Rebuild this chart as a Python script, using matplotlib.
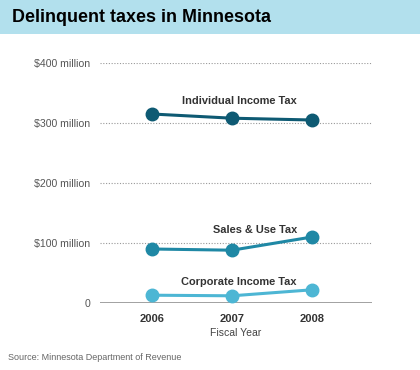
import matplotlib
matplotlib.use("Agg")
import matplotlib.pyplot as plt

plt.rcParams['font.family'] = ['Liberation Sans', 'DejaVu Sans']

years = [2006, 2007, 2008]
individual = [315, 308, 305]
sales = [90, 88, 110]
corporate = [13, 12, 22]
series_names = ["Individual Income Tax", "Sales & Use Tax", "Corporate Income Tax"]
series_colors = ["#0e5a73", "#1f88a5", "#4db6d4"]
yticks = [0, 100, 200, 300, 400]
ytick_labels = ["0", "$100 million", "$200 million", "$300 million", "$400 million"]

W, H = 420, 370
fig = plt.figure(figsize=(W / 100, H / 100), dpi=100)
fig.patch.set_facecolor("white")

# title banner
fig.patches.append(plt.Rectangle((0, 1 - 34 / H), 1, 34 / H, transform=fig.transFigure,
                                 facecolor="#b2e0ed", edgecolor="none", zorder=0))
fig.text(12 / W, 1 - 18 / H, "Delinquent taxes in Minnesota", fontsize=12.9,
         fontweight="bold", color="black", va="center", ha="left")

ax = fig.add_axes([100 / W, (H - 303) / H, 272 / W, 240 / H])
ax.set_xlim(2005.35, 2008.75)
ax.set_ylim(0, 400)
for s in ax.spines.values():
    s.set_visible(False)
ax.set_facecolor("none")

for y in yticks[1:]:
    ax.axhline(y, color="#999999", lw=0.8, ls=(0, (1, 1.5)), zorder=1)
ax.axhline(0, color="#888888", lw=1.1, zorder=1)

ax.set_yticks(yticks)
ax.set_yticklabels(ytick_labels)
ax.set_xticks(years)
ax.set_xticklabels([str(y) for y in years])
ax.tick_params(axis="y", length=0, pad=7, labelsize=7.6, labelcolor="#555555")
ax.tick_params(axis="x", length=0, pad=8, labelsize=8, labelcolor="#333333")
for lab in ax.get_xticklabels():
    lab.set_fontweight("bold")
ax.set_xlabel("Fiscal Year", fontsize=7.5, color="#444444", labelpad=3)

data = [individual, sales, corporate]
label_y = [individual[0] + 22, sales[2] + 12, corporate[2] + 13]
for vals, name, c, ly in zip(data, series_names, series_colors, label_y):
    ax.plot(years, vals, color=c, lw=2.2, marker="o", markersize=9, zorder=3, clip_on=False)
    ax.text(2007.81, ly, name, ha="right", va="center", fontsize=7.9,
            fontweight="bold", color="#333333")

fig.text(8 / W, 1 - 357 / H, "Source: Minnesota Department of Revenue", fontsize=6.5,
         color="#666666", va="center", ha="left")

fig.savefig("out.png", dpi=100)
